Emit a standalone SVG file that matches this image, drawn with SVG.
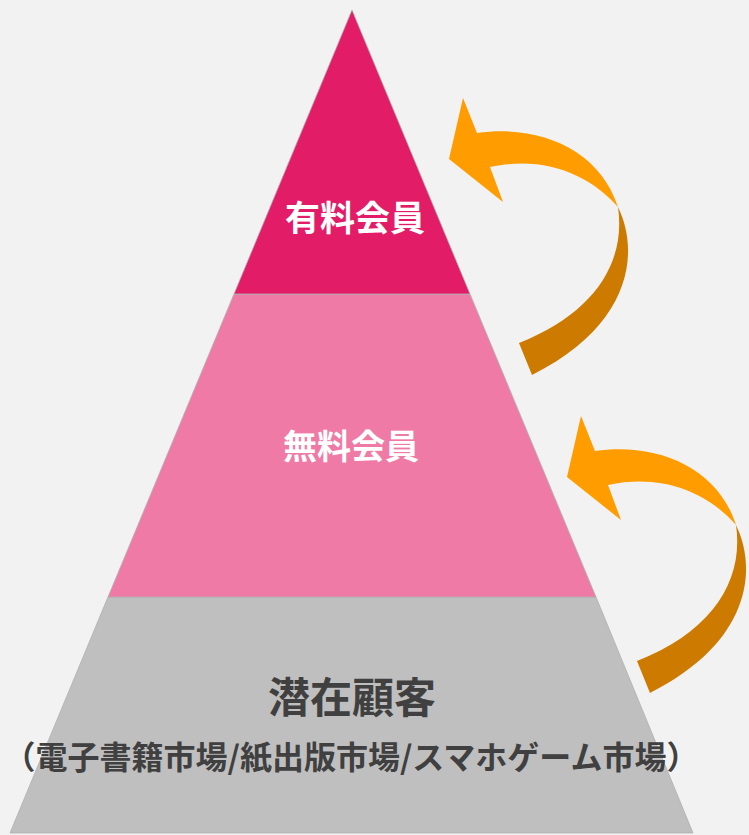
<svg xmlns="http://www.w3.org/2000/svg" width="749" height="835" viewBox="0 0 749 835">
<style>
.lbl{font-family:"Noto Sans CJK JP","Noto Sans",sans-serif;font-weight:bold;text-anchor:middle}
.w{fill:#FFFFFF}
.d{fill:#404040}
.edge{stroke:#B0B0B0;stroke-width:0.8}
</style>
<defs>
<g id="arrow">
<path d="M 463,98 L 477,133 C 540,124 600,150 618,207 C 590,175 545,155 490,167 L 503,202 L 449,159 Z" fill="#FF9C00"/>
<path d="M 618,207 C 640,252 632,325 532,375 L 519,343 C 595,313 626,262 618,207 Z" fill="#CD7B00"/>
</g>
</defs>
<rect x="0" y="0" width="749" height="835" fill="#F2F2F2"/>
<g id="layer-potential">
<polygon points="108,597 596,597 693,833 10,833" fill="#BFBFBF" class="edge"/>
<text class="lbl d" x="352" y="713" font-size="42">潜在顧客</text>
<text class="lbl d" x="351" y="769" font-size="32">（電子書籍市場/紙出版市場/スマホゲーム市場）</text>
</g>
<g id="layer-free">
<polygon points="234,294 470,294 596,597 108,597" fill="#F07AA6" class="edge"/>
<text class="lbl w" x="351" y="459" font-size="34">無料会員</text>
</g>
<g id="layer-paid">
<polygon points="352,10 470,294 234,294" fill="#E31C67" class="edge"/>
<text class="lbl w" x="355" y="231" font-size="35">有料会員</text>
</g>
<g id="connectors">
<use href="#arrow"/>
<use href="#arrow" transform="translate(118,318)"/>
</g>
</svg>
